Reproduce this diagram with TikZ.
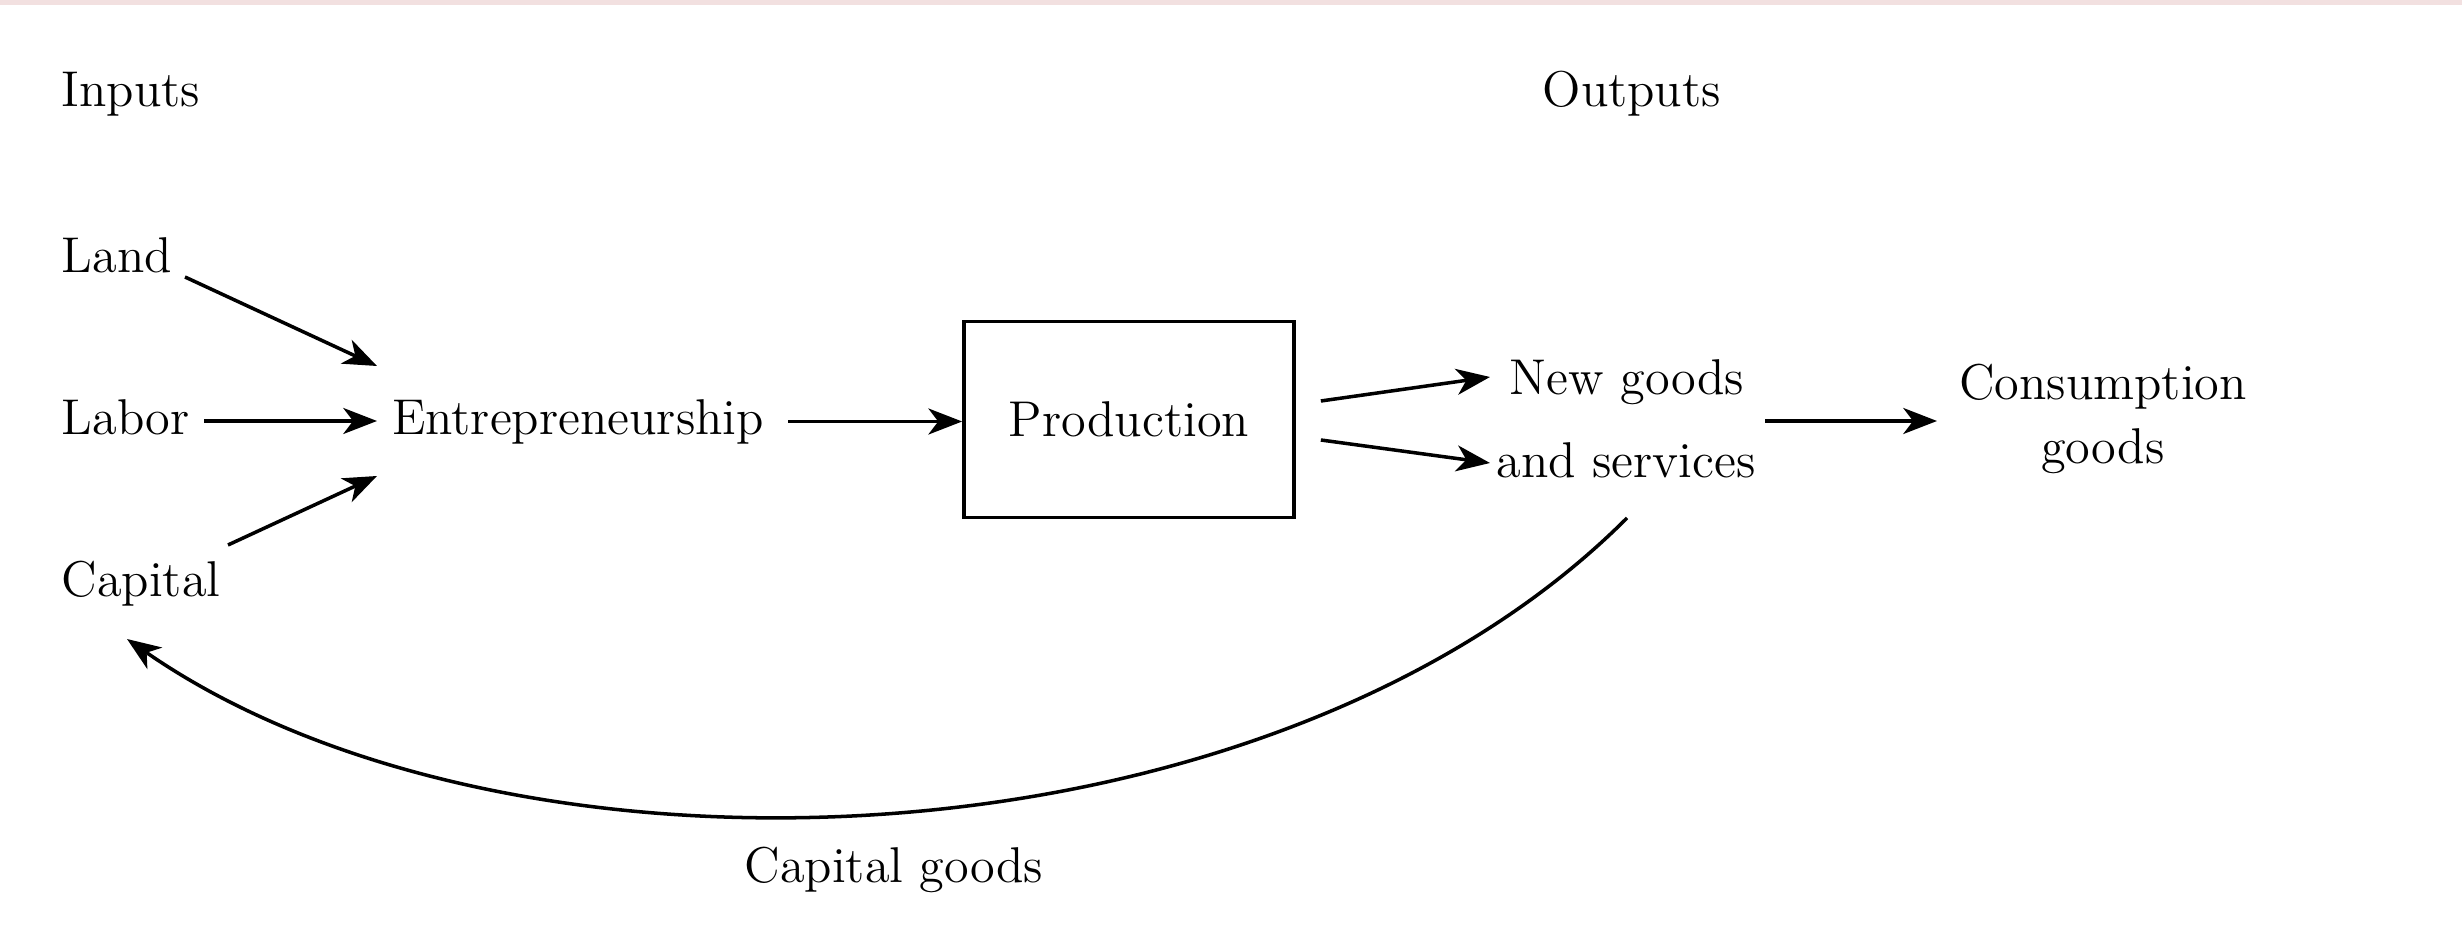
\documentclass[tikz,border=0pt]{standalone}
\usepackage{fontspec}
\usetikzlibrary{arrows.meta,calc}
\definecolor{topstrip}{RGB}{242,224,224}
\tikzset{
  lbl/.style={inner sep=0pt, font=\fontsize{14.3pt}{18.21pt}\selectfont},
  arr/.style={line width=1pt, -{Stealth[length=9.6pt,width=7.4pt,inset=2.8pt]}},
  procbox/.style={draw, line width=1pt, minimum width=3.30cm, minimum height=1.96cm,
    inner sep=0pt, font=\fontsize{14.3pt}{18.21pt}\selectfont}
}
\begin{document}
\begin{tikzpicture}[x=0.01cm,y=-0.01cm]
\useasboundingbox (0,0) rectangle (2462,952);
\fill[topstrip] (0,0) rectangle (2462,5);
% labels
\node[lbl,anchor=base west] (inputs) at (61,107) {Inputs};
\node[lbl,anchor=base west] (outputs) at (1542,107) {Outputs};
\node[lbl,anchor=base west] (land) at (61,273) {Land};
\node[lbl,anchor=base west] (labor) at (61,435) {Labor};
\node[lbl,anchor=base west] (capital) at (61,597) {Capital};
\node[lbl,anchor=base] (entre) at (578,435) {Entrepreneurship};
\node[procbox] (prod) at (1129,419.5) {Production};
\node[lbl,anchor=base] (newgoods) at (1627,395) {New goods};
\node[lbl,anchor=base] (andserv) at (1626,478) {and services};
\node[lbl,anchor=base,align=center] (cons) at (2103,464) {Consumption\\goods};
\node[lbl,anchor=base] (capgoods) at (894,883) {Capital goods};
% connectors
\draw[arr] ([shift={(124,4)}]land.base west) -- ([shift={(-201,-69)}]entre.base);
\draw[arr] ([shift={(143,-14)}]labor.base west) -- ([shift={(-201,-14)}]entre.base);
\draw[arr] ([shift={(167,-52)}]capital.base west) -- ([shift={(-201,41)}]entre.base);
\draw[arr] ([shift={(210,-13.5)}]entre.base) -- ([shift={(0,2)}]prod.west);
\draw[arr] ([shift={(25,-18.5)}]prod.east) -- ([shift={(-137,-18)}]newgoods.base);
\draw[arr] ([shift={(25,20.5)}]prod.east) -- ([shift={(-136,-15)}]andserv.base);
\draw[arr] ([shift={(139,-57)}]andserv.base) -- ([shift={(-166,-43)}]cons.base);
\draw[arr] ([shift={(1,40)}]andserv.base) .. controls (1270,875) and (510,905) .. ([shift={(66,42)}]capital.base west);
\end{tikzpicture}
\end{document}
